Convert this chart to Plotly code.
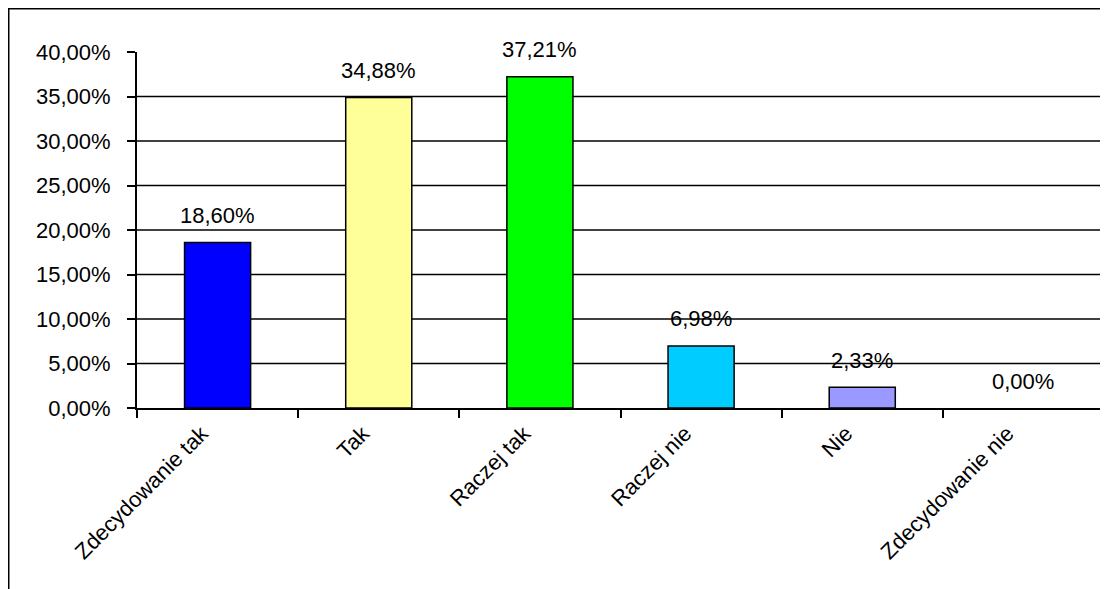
import plotly.graph_objects as go

categories = ["Zdecydowanie tak", "Tak", "Raczej tak", "Raczej nie", "Nie", "Zdecydowanie nie"]
values = [0.1860, 0.3488, 0.3721, 0.0698, 0.0233, 0.0]
colors = ["#0000FF", "#FFFF99", "#00FF00", "#00CCFF", "#9999FF", "#FFFFFF"]
y_ticks = [0.0, 0.05, 0.10, 0.15, 0.20, 0.25, 0.30, 0.35, 0.40]
grid_values = [0.05, 0.10, 0.15, 0.20, 0.25, 0.30, 0.35]

FONT = "Liberation Sans, Arial, sans-serif"
FS = 22

L, R, T, B = 129, 4, 44, 181
W, H = 1100, 581
PW, PH = W - L - R, H - T - B

fig = go.Figure()
fig.add_trace(go.Bar(
    x=categories, y=values,
    marker=dict(color=colors,
                line=dict(color="black", width=[1.5 if v > 0 else 0 for v in values])),
    showlegend=False, hoverinfo="skip",
))

for c, v in zip(categories, values):
    fig.add_annotation(x=c, y=v, text=f"{v*100:.2f}%".replace(".", ","),
                       showarrow=False, yanchor="middle", yshift=27,
                       font=dict(family=FONT, size=FS, color="black"))

shapes = []
for g in grid_values:
    shapes.append(dict(type="line", xref="paper", x0=0, x1=1, yref="y", y0=g, y1=g,
                       line=dict(color="black", width=1.5), layer="below"))
# outer chart border
shapes.append(dict(type="rect", xref="paper", yref="paper",
                   x0=(0.5 - L) / PW, x1=1.05, y0=-1.0, y1=1 + (T - 0.5) / PH,
                   line=dict(color="black", width=2), fillcolor="rgba(0,0,0,0)", layer="above"))

fig.update_layout(
    width=W, height=H,
    margin=dict(l=L, r=R, t=T, b=B),
    paper_bgcolor="white", plot_bgcolor="white",
    separators=",.",
    bargap=0.59,
    shapes=shapes,
    font=dict(family=FONT, size=FS, color="black"),
)
fig.update_xaxes(
    type="category", tickson="boundaries", ticks="outside", ticklen=8, tickwidth=2,
    tickcolor="black", showline=True, linecolor="black", linewidth=2, showgrid=False,
    tickangle=-45, ticklabelshift=-16, ticklabelstandoff=2,
    tickfont=dict(family=FONT, size=FS, color="black"),
)
fig.update_yaxes(
    range=[0, 0.4], tickvals=y_ticks, tickformat=".2%", ticks="outside", ticklen=8,
    tickwidth=2, tickcolor="black", showline=True, linecolor="black", linewidth=2,
    showgrid=False, zeroline=False, ticklabelstandoff=12,
    tickfont=dict(family=FONT, size=FS, color="black"),
)

fig.write_html("out.html")
